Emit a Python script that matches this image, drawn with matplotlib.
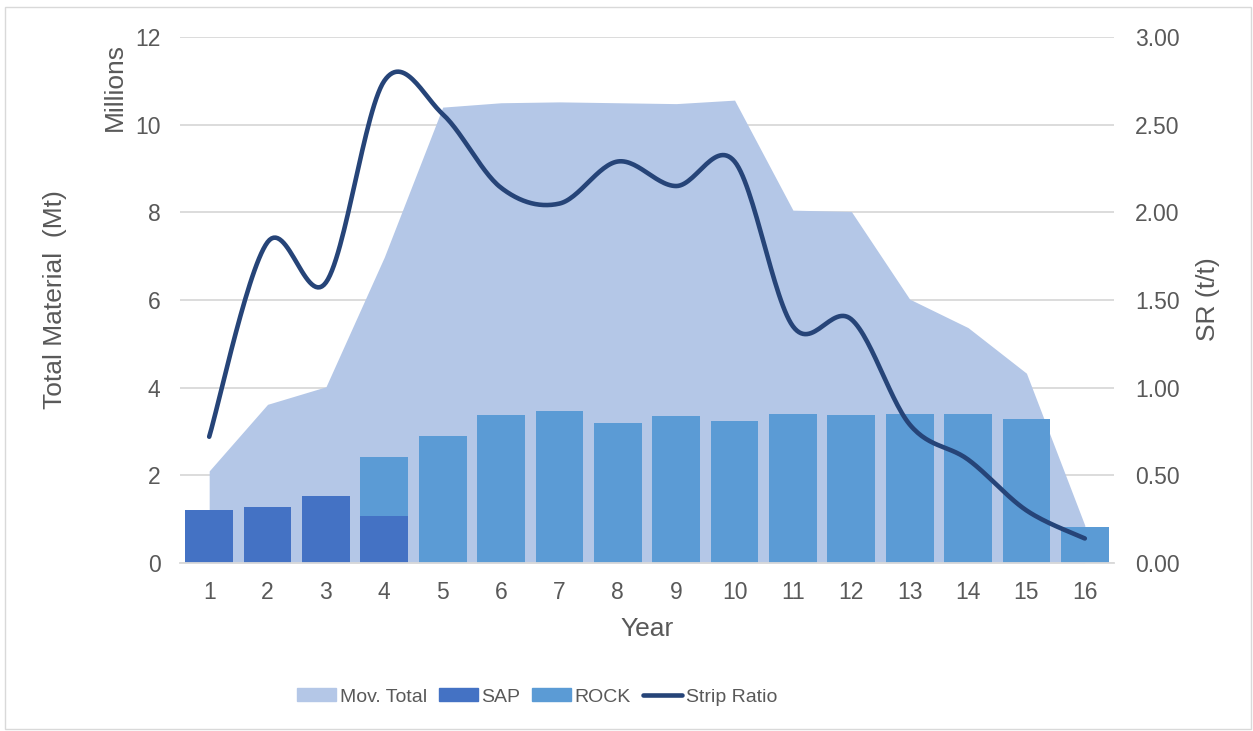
import matplotlib.pyplot as plt
import numpy as np
from matplotlib.patches import Patch, Rectangle
from matplotlib.lines import Line2D

plt.rcParams['font.family'] = ['Liberation Sans', 'DejaVu Sans']

years = np.arange(1, 17)
mov_total = [2.1, 3.62, 4.02, 6.98, 10.4, 10.5, 10.52, 10.5, 10.48, 10.56,
             8.05, 8.02, 6.02, 5.37, 4.33, 0.86]
sap = [1.2, 1.28, 1.53, 1.08, 0, 0, 0, 0, 0, 0, 0, 0, 0, 0, 0, 0]
rock = [0, 0, 0, 1.34, 2.9, 3.37, 3.46, 3.2, 3.35, 3.23, 3.4, 3.38, 3.39, 3.39, 3.29, 0.82]
strip_ratio = [0.72, 1.83, 1.60, 2.75, 2.56, 2.14, 2.05, 2.29, 2.15, 2.29,
               1.35, 1.39, 0.79, 0.59, 0.30, 0.14]

c_area = '#B4C7E7'
c_sap = '#4472C4'
c_rock = '#5B9BD5'
c_line = '#264478'
c_text = '#595959'
c_grid = '#D9D9D9'


def smooth(x, y, n=30):
    # Excel style smoothed line, bezier through the points
    x = np.asarray(x, float)
    y = np.asarray(y, float)
    px, py = [], []
    for i in range(len(x) - 1):
        x0, y0 = (x[i - 1], y[i - 1]) if i > 0 else (x[i], y[i])
        x3, y3 = (x[i + 2], y[i + 2]) if i + 2 < len(x) else (x[i + 1], y[i + 1])
        b1x = x[i] + (x[i + 1] - x0) / 6
        b1y = y[i] + (y[i + 1] - y0) / 6
        b2x = x[i + 1] - (x3 - x[i]) / 6
        b2y = y[i + 1] - (y3 - y[i]) / 6
        t = np.linspace(0, 1, n)
        px.extend((1 - t)**3 * x[i] + 3 * (1 - t)**2 * t * b1x + 3 * (1 - t) * t**2 * b2x + t**3 * x[i + 1])
        py.extend((1 - t)**3 * y[i] + 3 * (1 - t)**2 * t * b1y + 3 * (1 - t) * t**2 * b2y + t**3 * y[i + 1])
    return px, py


fig = plt.figure(figsize=(12.53, 7.31), dpi=100)
ax = fig.add_axes([180 / 1253, 1 - 563 / 731, 934 / 1253, 526 / 731])
ax2 = ax.twinx()

ax.fill_between(years, mov_total, color=c_area, lw=0, zorder=1)
ax.bar(years, sap, width=0.82, color=c_sap, zorder=2)
ax.bar(years, rock, width=0.82, bottom=sap, color=c_rock, zorder=2)

sx, sy = smooth(years, strip_ratio)
ax2.plot(sx, sy, color=c_line, lw=3.3, solid_capstyle='round')

ax.set_xlim(0.5, 16.5)
ax.set_ylim(0, 12)
ax2.set_ylim(0, 3)
ax.set_xticks(years)
ax.set_yticks(range(0, 13, 2))
ax2.set_yticks(np.arange(0, 3.01, 0.5))
ax2.set_yticklabels([f'{v:.2f}' for v in np.arange(0, 3.01, 0.5)])

ax.grid(axis='y', color=c_grid, lw=1.3, zorder=0)
ax.set_axisbelow(True)
for a in (ax, ax2):
    for s in a.spines.values():
        s.set_visible(False)
    a.tick_params(length=0, labelsize=16.5, labelcolor=c_text)
ax.spines['bottom'].set_visible(True)
ax.spines['bottom'].set_color(c_grid)
ax.spines['bottom'].set_linewidth(1.3)
ax.tick_params(axis='y', pad=14)
ax.tick_params(axis='x', pad=13)
ax2.tick_params(axis='y', pad=15)

ax.set_xlabel('Year', fontsize=19, color=c_text, labelpad=9)
fig.text(55 / 1253, 1 - 300 / 731, 'Total Material  (Mt)', rotation=90,
         fontsize=19, color=c_text, ha='center', va='center')
fig.text(115 / 1253, 1 - 87 / 731, 'Millions', rotation=90,
         fontsize=19, color=c_text, ha='center', va='center')
fig.text(1208 / 1253, 1 - 299 / 731, 'SR (t/t)', rotation=90,
         fontsize=19, color=c_text, ha='center', va='center')

handles = [Patch(color=c_area), Patch(color=c_sap), Patch(color=c_rock),
           Line2D([], [], color=c_line, lw=3.3, solid_capstyle='round')]
labels = ['Mov. Total', 'SAP', 'ROCK', 'Strip Ratio']
leg = fig.legend(handles, labels, loc='center', bbox_to_anchor=(537 / 1253, 1 - 697 / 731),
                 ncol=4, frameon=False, fontsize=14,
                 handlelength=2.0, handleheight=0.6, handletextpad=0.2, columnspacing=0.6)
for t in leg.get_texts():
    t.set_color(c_text)

fig.patches.append(Rectangle((5 / 1253, 2 / 731), 1246 / 1253, 722 / 731,
                             transform=fig.transFigure, fill=False, ec='#D9D9D9', lw=1))

fig.savefig('out.png', dpi=100)
